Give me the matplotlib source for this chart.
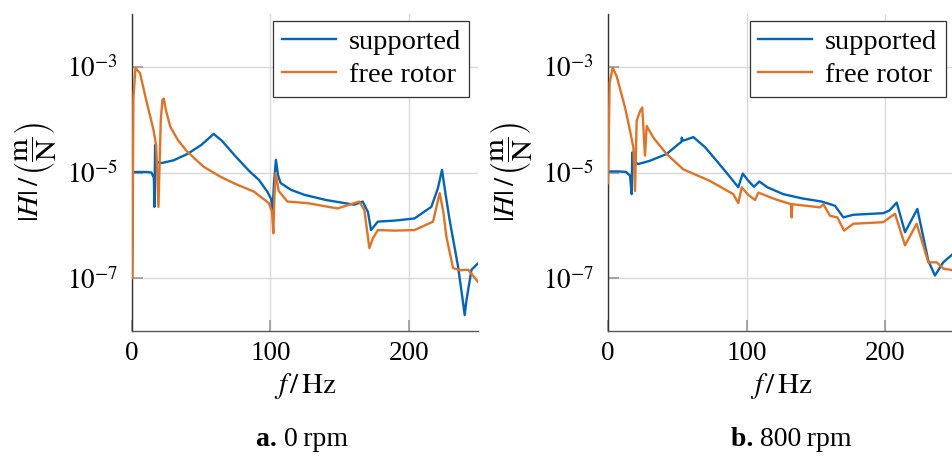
import matplotlib
matplotlib.use("Agg")
import matplotlib.pyplot as plt
import numpy as np

plt.rcParams['font.family'] = ['Liberation Serif', 'DejaVu Serif']
plt.rcParams['mathtext.fontset'] = 'stix'

# ---- data (frequency in Hz, |H| in m/N) ----
f_sup_0 = [0.0, 0.5, 5, 10, 14, 15.8, 16.2, 16.7, 17.5, 21.6, 30, 40, 50, 59, 65, 75, 85, 91.7, 97.7, 100.5, 101.6,
           102.6, 104.0, 105.5, 107.4, 115, 124.3, 140, 160.6, 166.7, 170.5, 172.7, 177.6, 190, 204.1, 216.3, 221, 224,
           226.5, 229.5, 235.6, 239.3, 240.4, 241.5, 242.9, 245.3, 250]
H_sup_0 = [-7.0, -4.99, -4.99, -4.99, -5.0, -5.1, -5.65, -4.48, -4.80, -4.82, -4.77, -4.65, -4.48, -4.27, -4.40, -4.70,
           -4.98, -5.14, -5.36, -5.50, -5.71, -5.2, -4.76, -5.05, -5.20, -5.33, -5.42, -5.52, -5.61, -5.55, -5.75, -6.09,
           -5.93, -5.91, -5.87, -5.65, -5.30, -4.95, -5.40, -5.90, -6.78, -7.48, -7.70, -7.45, -7.22, -6.84, -6.72]

f_free_0 = [0.0, 0.3, 1.0, 2.5, 5.8, 10, 15.5, 17.5, 19.1, 20.2, 20.8, 22.0, 23.0, 24.4, 27.6, 33, 39.7, 51.7, 63.9,
            75, 88, 98.9, 101.2, 102.1, 103.0, 103.8, 106, 112.3, 126.8, 148.5, 164.2, 167.9, 171.5, 174, 177.6,
            190, 204.1, 217.5, 222.3, 225, 227.1, 232, 237, 242.9, 250]
H_free_0 = [-7.0, -6.94, -3.6, -3.02, -3.12, -3.6, -4.19, -4.5, -5.65, -4.6, -4.0, -3.63, -3.6, -3.81, -4.13, -4.38,
            -4.60, -4.89, -5.08, -5.22, -5.36, -5.58, -5.75, -6.15, -5.4, -5.01, -5.35, -5.55, -5.58, -5.68, -5.55,
            -5.71, -6.43, -6.25, -6.09, -6.10, -6.09, -5.93, -5.39, -5.75, -6.21, -6.81, -6.85, -6.84, -7.07]

f_sup_800 = [0.0, 1.5, 8, 13, 15.9, 17.1, 17.5, 19, 21.9, 30, 42.3, 50, 53.0, 53.2, 54, 61.6, 70, 78.4, 86, 94, 97.2,
             101, 105.3, 109.2, 115, 126.5, 140, 154.2, 160.2, 163.8, 169.8, 177, 198.6, 203, 208.3, 214.3, 223.2,
             231.1, 235.9, 241.9, 248.9, 252]
H_sup_800 = [-4.98, -4.98, -4.98, -4.99, -5.06, -5.41, -4.62, -4.80, -4.84, -4.78, -4.65, -4.48, -4.42, -4.34, -4.40,
             -4.33, -4.52, -4.78, -5.02, -5.28, -5.02, -5.15, -5.27, -5.17, -5.28, -5.41, -5.49, -5.55, -5.60, -5.63,
             -5.85, -5.80, -5.77, -5.72, -5.57, -6.13, -5.69, -6.67, -6.95, -6.70, -6.54, -6.50]

f_free_800 = [0.0, 1.2, 3.4, 6.3, 9, 12.3, 15.9, 18.3, 19.5, 20.7, 23.1, 24.7, 26.7, 27.9, 33, 42.3, 54.3, 73.6,
              90.4, 94.0, 96.5, 101, 106.1, 108.5, 120, 132.0, 132.5, 133.0, 153.0, 155.4, 160.2, 165.5, 170.3,
              177.0, 198.6, 207.1, 214.3, 222.7, 231.1, 237.2, 242.0, 248.9, 252]
H_free_800 = [-5.2, -3.3, -3.02, -3.18, -3.45, -3.77, -4.21, -4.53, -5.35, -4.02, -3.84, -3.77, -4.68, -4.12, -4.35,
              -4.65, -4.94, -5.16, -5.41, -5.58, -5.28, -5.42, -5.52, -5.38, -5.50, -5.60, -5.85, -5.60, -5.66, -5.60,
              -5.82, -5.85, -6.10, -5.97, -5.94, -5.78, -6.38, -5.97, -6.70, -6.70, -6.82, -6.85, -6.88]

series_labels = ['supported', 'free rotor']
captions = [('a.', '0\u2009rpm'), ('b.', '800\u2009rpm')]
x_ticks = [0, 100, 200]
y_ticks = [1e-7, 1e-5, 1e-3]

blue = '#0065BD'
orange = '#E37222'

fig = plt.figure(figsize=(9.53, 4.62), dpi=100)
W, Hh = 953, 462
ax_boxes = [(132, 14, 478, 331), (608, 14, 954.5, 331)]
datasets = [(f_sup_0, H_sup_0, f_free_0, H_free_0), (f_sup_800, H_sup_800, f_free_800, H_free_800)]

for (x0, y0, x1, y1), (fs, hs, ff, hf), (cap_b, cap_r) in zip(ax_boxes, datasets, captions):
    ax = fig.add_axes([x0 / W, 1 - y1 / Hh, (x1 - x0) / W, (y1 - y0) / Hh])
    ax.plot(fs, 10 ** np.array(hs), color=blue, lw=1.7, label=series_labels[0], zorder=3)
    ax.plot(ff, 10 ** np.array(hf), color=orange, lw=1.7, label=series_labels[1], zorder=3)
    ax.set_yscale('log')
    ax.set_xlim(0, 250)
    ax.set_ylim(1e-8, 1e-2)
    ax.set_xticks(x_ticks)
    ax.set_yticks(y_ticks)
    ax.yaxis.set_minor_locator(matplotlib.ticker.NullLocator())
    ax.set_xticklabels([str(t) for t in x_ticks])
    ax.set_yticklabels([r'$10^{-7}$', r'$10^{-5}$', r'$10^{-3}$'])
    ax.grid(True, color='#d9d9d9', lw=1.0, zorder=0)
    for s in ['top', 'right']:
        ax.spines[s].set_visible(False)
    ax.spines['left'].set_color('#333333')
    ax.spines['bottom'].set_color('#555555')
    ax.spines['left'].set_linewidth(1.0)
    ax.spines['bottom'].set_linewidth(1.0)
    ax.tick_params(direction='in', length=8, width=1.2, color='#999999', labelsize=19.5, pad=10)
    ax.tick_params(axis='x', pad=7)
    ax.set_xlabel(r'$f\,/\,\mathrm{Hz}$', fontsize=21, labelpad=4)
    ax.set_ylabel(r'$|H|\,/\,\left(\dfrac{\mathrm{m}}{\mathrm{N}}\right)$', fontsize=21, labelpad=6)
    leg = ax.legend(loc='upper right', fontsize=20.5, frameon=True, fancybox=False, framealpha=1,
                    edgecolor='#333333', borderpad=0.3, handlelength=1.9, labelspacing=0.25,
                    handletextpad=0.45, borderaxespad=0.0, bbox_to_anchor=(0.975, 0.979))
    leg.get_frame().set_linewidth(0.9)
    cx = (x0 + x1) / 2 / W
    fig.text(cx - 0.022, 1 - 439 / Hh, cap_b + ' ', fontsize=20, fontweight='bold', ha='right', va='center')
    fig.text(cx - 0.022, 1 - 439 / Hh, cap_r, fontsize=20, ha='left', va='center')

fig.savefig('out.png', dpi=100)
